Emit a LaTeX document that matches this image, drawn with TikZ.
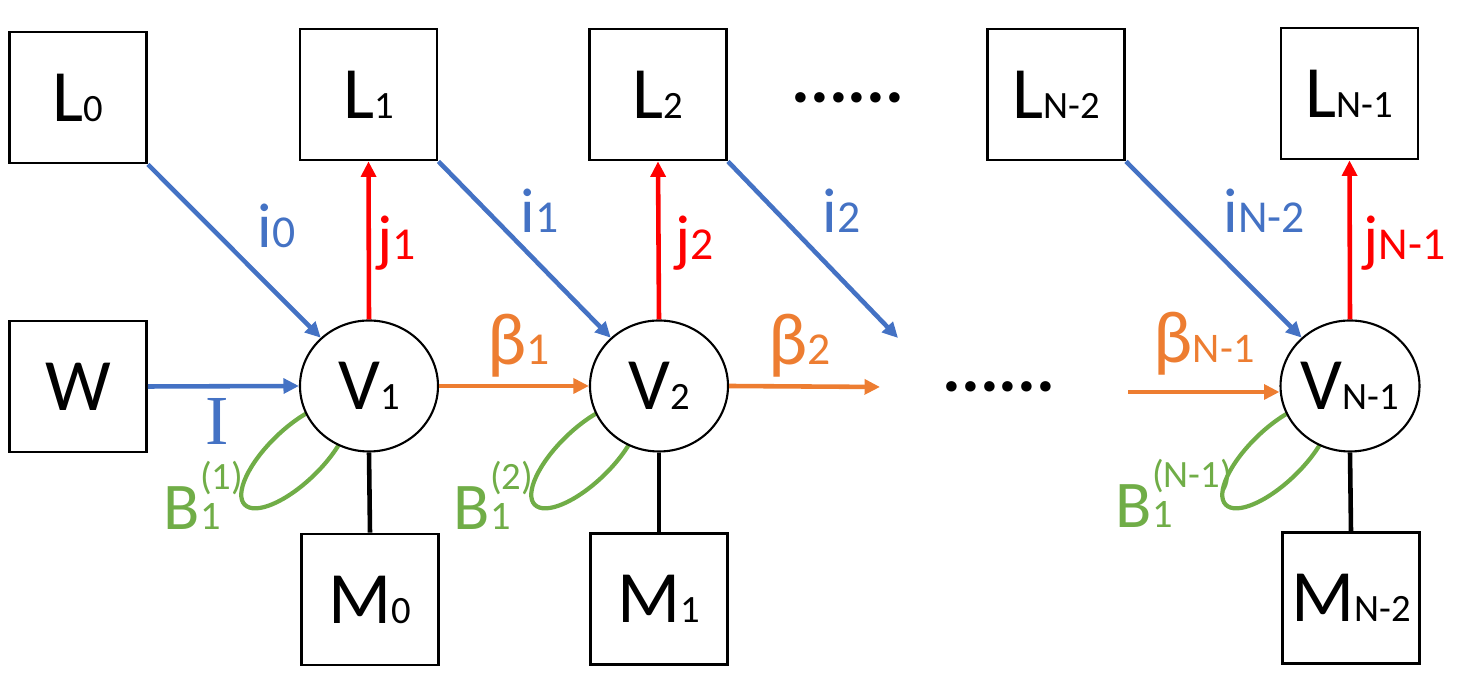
\documentclass[tikz,border=0pt]{standalone}
\usepackage{fontspec}
\setmainfont{Carlito}
\newfontfamily\serifI{Liberation Serif}
\usetikzlibrary{arrows.meta,shapes.geometric,backgrounds}

\definecolor{flowblue}{HTML}{4472C4}
\definecolor{flowred}{HTML}{FF0000}
\definecolor{floworange}{HTML}{ED7D31}
\definecolor{flowgreen}{HTML}{70AD47}

\newcommand{\boxlab}[2]{{\fontsize{21}{21}\selectfont #1}{\fontsize{11}{11}\selectfont #2}}
\newcommand{\flowlab}[4]{{\fontsize{#3}{#3}\selectfont #1}{\fontsize{#4}{#4}\selectfont #2}}
\newcommand{\looplab}[1]{{\fontsize{19}{19}\selectfont B}\rlap{\raisebox{11.5pt}{\fontsize{11}{11}\selectfont(#1)}}{\fontsize{11.5}{11.5}\selectfont 1}}
\newcommand{\moredots}{{\fontsize{20}{20}\selectfont\bfseries ......}}

\begin{document}
\begin{tikzpicture}
    \tikzstyle{square}=[rectangle,draw,line width=0.8pt,minimum width=1.37cm,minimum height=1.31cm,inner sep=0pt]
    \tikzstyle{state}=[ellipse,draw,fill=white,line width=0.6pt,minimum width=1.38cm,minimum height=1.31cm,inner sep=0pt]
    \tikzstyle{flow}=[line width=1.3pt,-{Triangle[length=4.4pt,width=4.2pt]}]
    \tikzstyle{lab}=[anchor=base west,inner sep=0pt]
    \tikzstyle{selfloop}=[flowgreen,line width=1.2pt]

    \useasboundingbox (0,0) rectangle (14.66,6.79);

    % boxes
    \node[square] (L0)  at (0.78,5.815) {\boxlab{L}{0}};
    \node[square] (L1)  at (3.685,5.845) {\boxlab{L}{1}};
    \node[square] (L2)  at (6.58,5.845) {\boxlab{L}{2}};
    \node[square] (LN2) at (10.56,5.845) {\boxlab{L}{N-2}};
    \node[square] (LN1) at (13.495,5.855) {\boxlab{L}{N-1}};
    \node[square] (W)   at (0.78,2.925) {{\fontsize{21}{21}\selectfont W}};
    \node[square] (M0)  at (3.70,0.795) {\boxlab{M}{0}};
    \node[square] (M1)  at (6.59,0.80) {\boxlab{M}{1}};
    \node[square] (MN2) at (13.51,0.81) {\boxlab{M}{N-2}};

    % states
    \node[state] (V1)  at (3.69,2.93) {\boxlab{V}{1}};
    \node[state] (V2)  at (6.59,2.93) {\boxlab{V}{2}};
    \node[state] (VN1) at (13.50,2.93) {\boxlab{V}{N-1}};

    \coordinate (i2end) at (8.98,3.41);
    \coordinate (b2end) at (8.80,2.92);
    \coordinate (bNstart) at (11.28,2.87);

    % self loops
    \begin{scope}[on background layer]
        \foreach \v in {V1,V2,VN1}
            \draw[selfloop] ([shift={(-0.74,-0.70)}]\v.center) circle [x radius=0.70, y radius=0.27, rotate=44];
    \end{scope}

    % flows
    \draw[flow,flowblue] (L0.south east) -- (V1.135);
    \draw[flow,flowblue] (W.east) -- (V1.west);
    \draw[flow,flowred] (V1.north) -- (L1.south);
    \draw[flow,floworange] (V1.east) -- (V2.west);
    \draw[flow,flowblue] (L1.south east) -- (V2.135);
    \draw[flow,flowred] (V2.north) -- (L2.south);
    \draw[flow,flowblue] (L2.south east) -- (i2end);
    \draw[flow,floworange] (V2.east) -- (b2end);
    \draw[flow,floworange] (bNstart) -- (bNstart -| VN1.west);
    \draw[flow,flowblue] (LN2.south east) -- (VN1.135);
    \draw[flow,flowred] (VN1.north) -- (LN1.south);

    \draw[line width=1.3pt] (V1.south) -- (M0.north);
    \draw[line width=1.3pt] (V2.south) -- (M1.north);
    \draw[line width=1.3pt] (VN1.south) -- (MN2.north);

    % labels
    \node[lab,flowblue] at (2.57,4.31) {\flowlab{i}{0}{18}{13}};
    \node[lab,flowred]  at (3.77,4.19) {\flowlab{j}{1}{18}{13}};
    \node[lab,flowblue] at (5.20,4.46) {\flowlab{i}{1}{18}{13}};
    \node[lab,flowred]  at (6.75,4.19) {\flowlab{j}{2}{18}{13}};
    \node[lab,flowblue] at (8.22,4.46) {\flowlab{i}{2}{18}{13}};
    \node[lab,flowblue] at (12.23,4.46) {\flowlab{i}{N-2}{18}{13}};
    \node[lab,flowred]  at (13.63,4.19) {\flowlab{j}{N-1}{18}{13}};

    \node[lab,floworange] at (4.87,3.14) {\flowlab{β}{1}{21}{13}};
    \node[lab,floworange] at (7.68,3.14) {\flowlab{β}{2}{21}{13}};
    \node[lab,floworange] at (11.53,3.16) {\flowlab{β}{N-1}{21}{12}};

    \node[lab,flowblue] at (2.05,2.34) {{\serifI\fontsize{20}{20}\selectfont I}};

    \node[lab,flowgreen] at (1.63,1.49) {\looplab{1}};
    \node[lab,flowgreen] at (4.53,1.49) {\looplab{2}};
    \node[lab,flowgreen] at (11.15,1.51) {\looplab{N-1}};

    \node[anchor=base,inner sep=0pt] at (8.48,5.76) {\moredots};
    \node[anchor=base,inner sep=0pt] at (9.99,2.87) {\moredots};

\end{tikzpicture}
\end{document}
